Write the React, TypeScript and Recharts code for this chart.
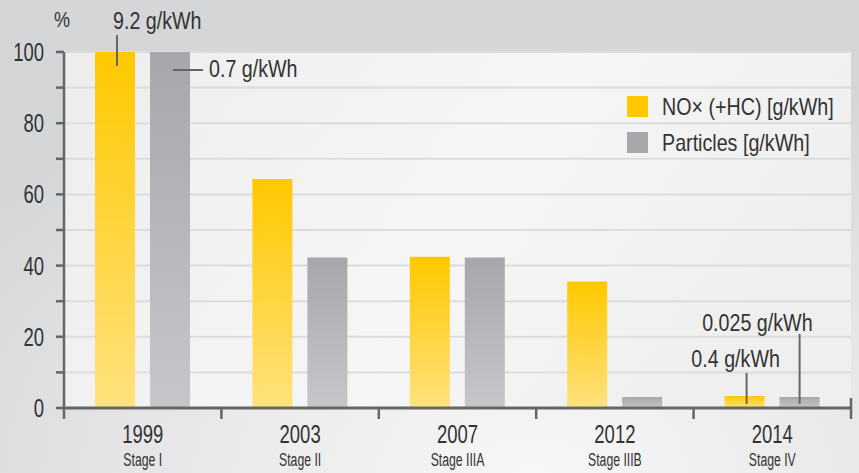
import React from "react";
import {
  Bar,
  BarChart,
  CartesianGrid,
  LabelList,
  Legend,
  XAxis,
  YAxis,
} from "recharts";

// ─── Data ────────────────────────────────────────────────────────────────────
const YEARS = ["1999", "2003", "2007", "2012", "2014"];
const STAGES = ["Stage I", "Stage II", "Stage IIIA", "Stage IIIB", "Stage IV"];
const NOX = [100, 64.3, 42.5, 35.5, 3.4];
const PARTICLES = [100, 42.3, 42.3, 3.1, 3.1];
const NOX_NOTES = ["9.2 g/kWh", "", "", "", "0.4 g/kWh"];
const PARTICLE_NOTES = ["0.7 g/kWh", "", "", "", "0.025 g/kWh"];
const Y_TICKS = [0, 10, 20, 30, 40, 50, 60, 70, 80, 90, 100];

const SERIES = [
  { key: "nox", name: "NO× (+HC) [g/kWh]", swatch: "#ffc800" },
  { key: "pm", name: "Particles [g/kWh]", swatch: "#a7a8ab" },
];

const data = YEARS.map((year, i) => ({
  year,
  stage: STAGES[i],
  nox: NOX[i],
  pm: PARTICLES[i],
  noxNote: NOX_NOTES[i],
  pmNote: PARTICLE_NOTES[i],
}));

// ─── Layout ──────────────────────────────────────────────────────────────────
const W = 859;
const H = 473;
const MARGIN = { top: 52, right: 8, left: 0, bottom: 0 };
const Y_AXIS_W = 64;
const BAND = (W - Y_AXIS_W - MARGIN.right) / YEARS.length;
const FONT = "'Liberation Sans', Arial, sans-serif";
const AXIS = "#666666";
const TEXT = "#333333";

// no condensed face installed, so squeeze Liberation Sans horizontally
function NarrowText({ x, y, size, squeeze = 0.82, anchor = "start", children }: any) {
  return (
    <text
      transform={`translate(${x},${y}) scale(${squeeze},1)`}
      textAnchor={anchor}
      fontSize={size}
      fontFamily={FONT}
      fill={TEXT}
    >
      {children}
    </text>
  );
}

// y here is the axis line itself (tickSize and tickMargin are 0)
function XTick(props: any) {
  const { x, y, payload, index } = props;
  const i = YEARS.indexOf(payload.value);
  const left = x - BAND / 2;
  const right = x + BAND / 2;
  return (
    <g>
      <line x1={left} x2={left} y1={y} y2={y + 11} stroke={AXIS} strokeWidth={2.5} />
      {index === YEARS.length - 1 && (
        <line x1={right} x2={right} y1={y - 10} y2={y + 11} stroke={AXIS} strokeWidth={2.5} />
      )}
      <NarrowText x={x} y={y + 35} size={25} squeeze={0.74} anchor="middle">
        {payload.value}
      </NarrowText>
      <NarrowText x={x} y={y + 58} size={18} squeeze={0.68} anchor="middle">
        {STAGES[i]}
      </NarrowText>
    </g>
  );
}

function YTick(props: any) {
  const { x, y, payload } = props;
  if (payload.value % 20 !== 0) return null;
  return (
    <NarrowText x={x} y={y + 9} size={25} squeeze={0.74} anchor="end">
      {payload.value}
    </NarrowText>
  );
}

function NoxNote(props: any) {
  const { x, y, value, index } = props;
  if (!value) return null;
  if (index === 0) {
    return (
      <g>
        <line x1={x + 22} x2={x + 22} y1={y - 17} y2={y + 14} stroke={AXIS} strokeWidth={2} />
        <NarrowText x={x + 18} y={y - 23} size={24}>{value}</NarrowText>
      </g>
    );
  }
  return (
    <g>
      <line x1={x + 22} x2={x + 22} y1={y - 23} y2={y + 8} stroke={AXIS} strokeWidth={2} />
      <NarrowText x={x + 11} y={y - 29} size={24} anchor="middle">{value}</NarrowText>
    </g>
  );
}

function ParticleNote(props: any) {
  const { x, y, value, index } = props;
  if (!value) return null;
  if (index === 0) {
    return (
      <g>
        <line x1={x + 23} x2={x + 53} y1={y + 18} y2={y + 18} stroke={AXIS} strokeWidth={2} />
        <NarrowText x={x + 59} y={y + 25} size={24}>{value}</NarrowText>
      </g>
    );
  }
  return (
    <g>
      <line x1={x + 20} x2={x + 20} y1={y - 63} y2={y + 7} stroke={AXIS} strokeWidth={2} />
      <NarrowText x={x + 33} y={y - 66} size={24} anchor="end">{value}</NarrowText>
    </g>
  );
}

function LegendBox() {
  return (
    <div style={{ display: "flex", flexDirection: "column", gap: 15 }}>
      {SERIES.map((s) => (
        <div key={s.key} style={{ display: "flex", alignItems: "center", height: 21 }}>
          <span style={{ width: 21, height: 21, background: s.swatch, marginRight: 14, flex: "none" }} />
          <span
            style={{
              fontSize: 24,
              color: TEXT,
              lineHeight: "21px",
              whiteSpace: "nowrap",
              display: "inline-block",
              transform: "scaleX(0.82)",
              transformOrigin: "left center",
            }}
          >
            {s.name}
          </span>
        </div>
      ))}
    </div>
  );
}

function PercentLabel(props: any) {
  const { viewBox } = props;
  return (
    <NarrowText x={viewBox.x + viewBox.width - 2} y={viewBox.y - 25} size={22} anchor="middle">
      %
    </NarrowText>
  );
}

export default function App() {
  return (
    <div
      style={{
        position: "absolute",
        left: 0,
        top: 0,
        width: W,
        height: H,
        fontFamily: FONT,
        background:
          "radial-gradient(ellipse 80% 90% at 62% 100%, #f7f7f7 0%, #eaeaeb 45%, #d5d6d8 100%)",
      }}
    >
      <BarChart width={W} height={H} data={data} margin={MARGIN} barSize={40} barGap={15}>
        <defs>
          <linearGradient id="noxFill" x1="0" y1="0" x2="0" y2="1">
            <stop offset="0%" stopColor="#ffc800" />
            <stop offset="100%" stopColor="#ffe27e" />
          </linearGradient>
          <linearGradient id="pmFill" x1="0" y1="0" x2="0" y2="1">
            <stop offset="0%" stopColor="#a6a7aa" />
            <stop offset="100%" stopColor="#c6c7ca" />
          </linearGradient>
          <linearGradient id="plotFill" x1="0" y1="0" x2="1" y2="0.3">
            <stop offset="0%" stopColor="#ededed" />
            <stop offset="60%" stopColor="#f6f6f6" />
            <stop offset="100%" stopColor="#efefef" />
          </linearGradient>
        </defs>
        <CartesianGrid
          vertical={false}
          stroke="#dcdcdc"
          strokeWidth={2}
          fill="url(#plotFill)"
          fillOpacity={1}
        />
        <XAxis
          dataKey="year"
          height={65}
          tick={<XTick />}
          tickLine={false}
          tickSize={0}
          tickMargin={0}
          axisLine={{ stroke: AXIS, strokeWidth: 3 }}
          interval={0}
        />
        <YAxis
          width={Y_AXIS_W}
          domain={[0, 100]}
          ticks={Y_TICKS}
          interval={0}
          tick={<YTick />}
          tickSize={8}
          tickMargin={12}
          tickLine={{ stroke: AXIS, strokeWidth: 2.5 }}
          axisLine={{ stroke: AXIS, strokeWidth: 2.5 }}
          label={{ content: <PercentLabel /> }}
        />
        <Legend
          layout="vertical"
          align="center"
          verticalAlign="middle"
          content={<LegendBox />}
          wrapperStyle={{ left: 627, top: 96, width: 230 }}
        />
        <Bar dataKey="nox" name={SERIES[0].name} fill="url(#noxFill)" isAnimationActive={false}>
          <LabelList dataKey="noxNote" content={<NoxNote />} />
        </Bar>
        <Bar dataKey="pm" name={SERIES[1].name} fill="url(#pmFill)" isAnimationActive={false}>
          <LabelList dataKey="pmNote" content={<ParticleNote />} />
        </Bar>
      </BarChart>
    </div>
  );
}
